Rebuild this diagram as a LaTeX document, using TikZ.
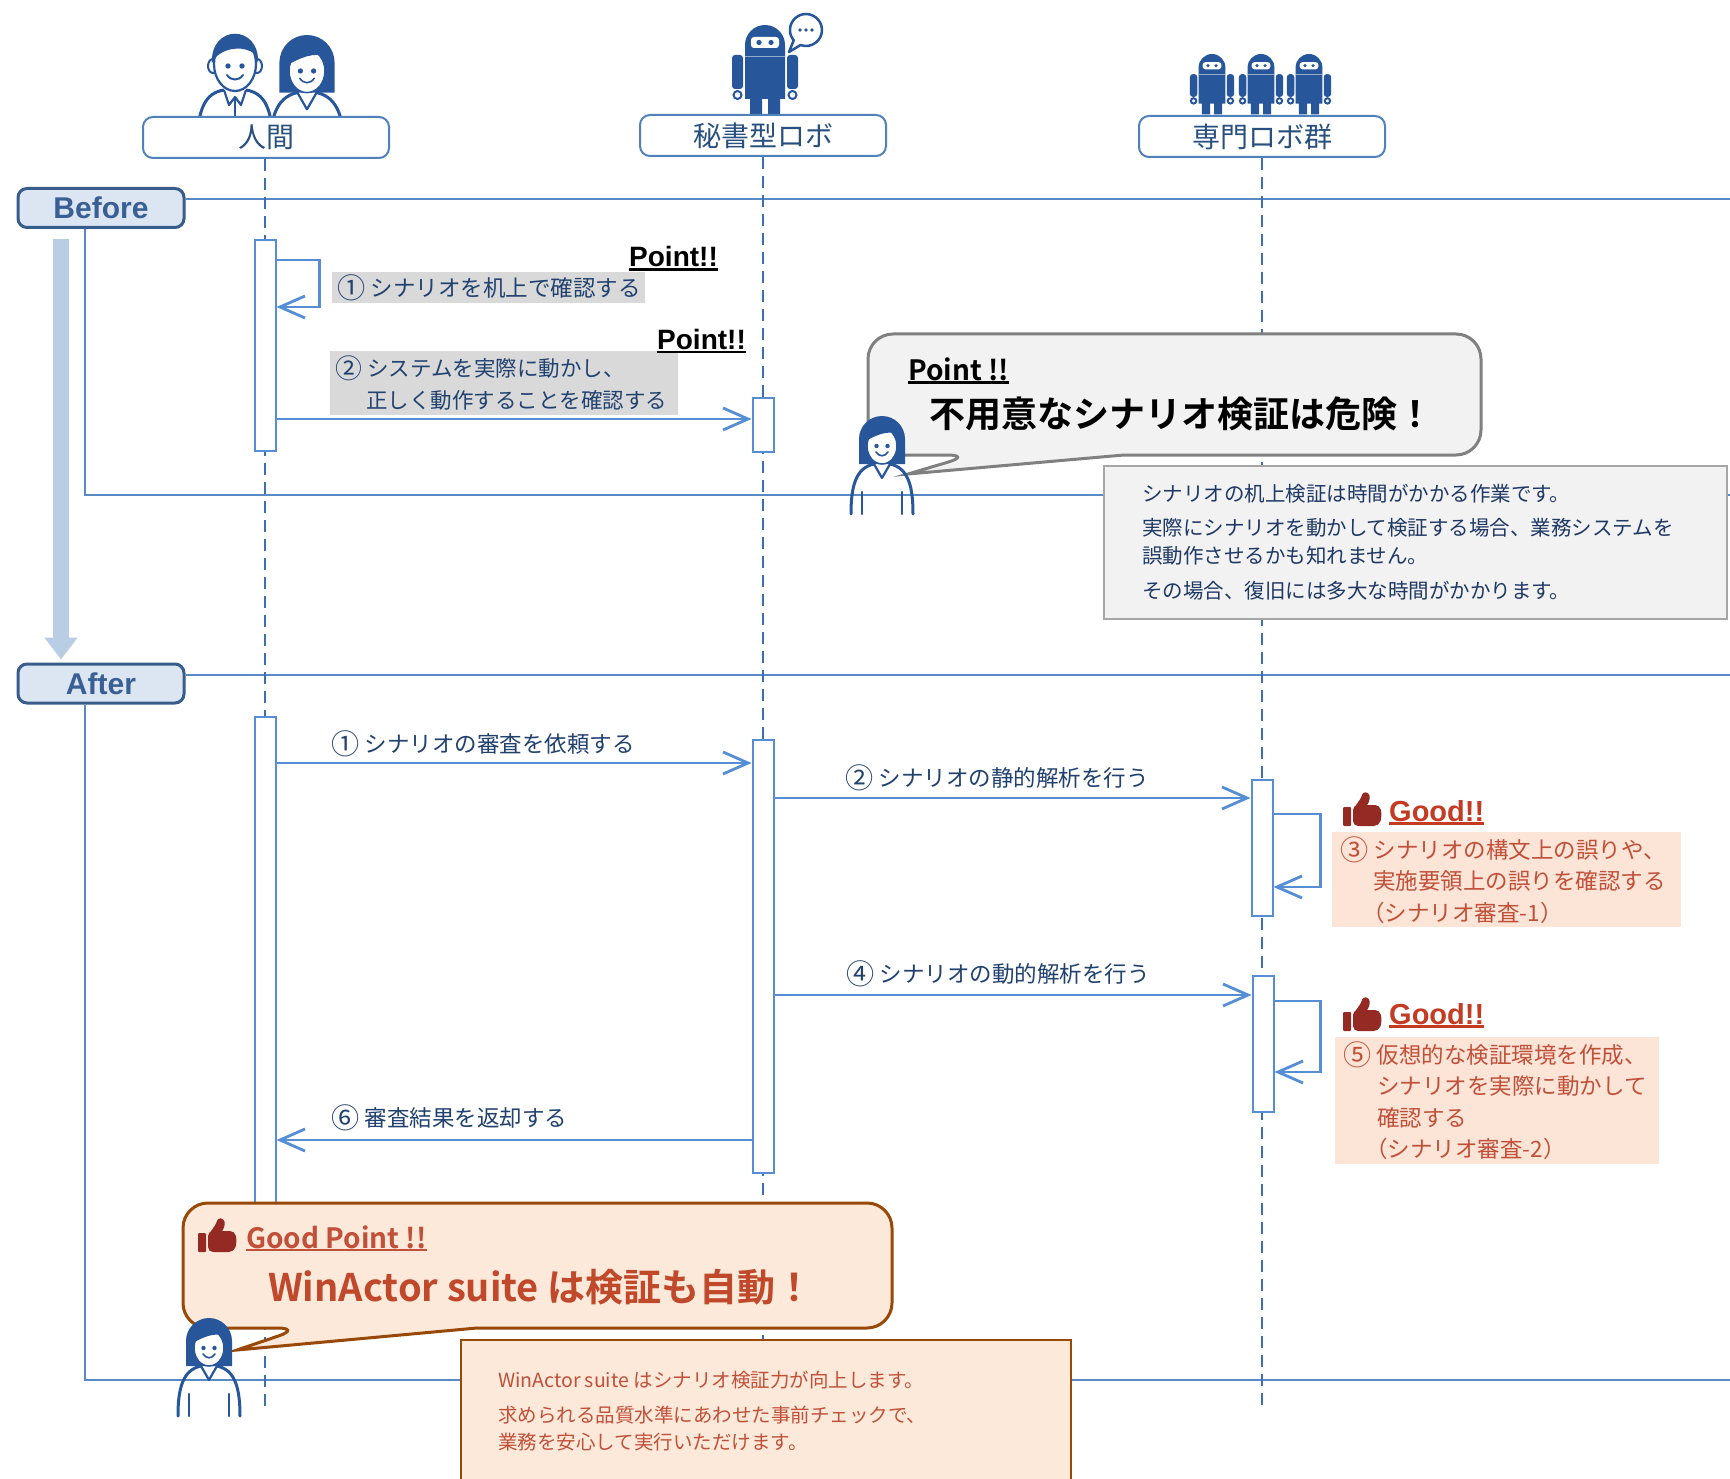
\documentclass[tikz,border=0pt]{standalone}
\usepackage{graphicx}
\usepackage{fontspec}
\setmainfont{Noto Sans CJK JP}[BoldFont={Noto Sans CJK JP Bold}]
\newfontfamily\arialfont{Liberation Sans}
\usetikzlibrary{arrows.meta}

\definecolor{cIcon}{HTML}{27579A}
\definecolor{cHdrLine}{HTML}{4F81BD}
\definecolor{cHdrTxt}{HTML}{28507F}
\definecolor{cPhaseLine}{HTML}{385D8A}
\definecolor{cPhaseFill}{HTML}{DCE6F2}
\definecolor{cPhaseTxt}{HTML}{3A5F94}
\definecolor{cFrame}{HTML}{5A8AC6}
\definecolor{cArrowBig}{HTML}{B9CDE5}
\definecolor{cLife}{HTML}{3E6FB0}
\definecolor{cMsg}{HTML}{558ED5}
\definecolor{cMsgTxt}{HTML}{21416F}
\definecolor{cLblGray}{HTML}{D9D9D9}
\definecolor{cCalFill}{HTML}{F2F2F2}
\definecolor{cCalLine}{HTML}{808080}
\definecolor{cInfoLine}{HTML}{A6A6A6}
\definecolor{cInfoTxt}{HTML}{1F3864}
\definecolor{cPeach}{HTML}{FDE9D9}
\definecolor{cGoodFill}{HTML}{FCE4D6}
\definecolor{cGoodTxt}{HTML}{C0503A}
\definecolor{cGoodRed}{HTML}{C23B22}
\definecolor{cThumb}{HTML}{952A25}
\definecolor{cGpLine}{HTML}{984807}
\definecolor{cWaTxt}{HTML}{C0482B}

% text with a thick underline: #1 depth below baseline, #2 thickness
\newsavebox\ulbox
\newcommand\ulx[3]{\sbox\ulbox{#3}\usebox\ulbox\llap{\rule[-#1]{\wd\ulbox}{#2}}}
% enlarged circled step number, kept on the line with its text
\newcommand\stepnum[1]{\raisebox{-0.09em}{\scalebox{1.25}{#1}}\nobreak\hspace{0.25em}\nobreak}

\tikzset{
  % person with long hair (origin: top of head)
  woman/.pic={
    \fill[cIcon] (-23,48) -- (-23,23) arc[start angle=180,end angle=360,radius=23] -- (23,48) -- cycle;
    \draw[cIcon,line width=3pt,line cap=round] (-8,48) .. controls (-27,52) and (-31,72) .. (-31,98);
    \draw[cIcon,line width=3pt,line cap=round] (8,48) .. controls (27,52) and (31,72) .. (31,98);
    \draw[cIcon,line width=2.2pt,line join=round] (-8,48) -- (0,62) -- (8,48);
    \draw[cIcon,line width=2.5pt,line cap=round] (-20,76) -- (-20,98) (20,76) -- (20,98);
    \filldraw[fill=white,draw=cIcon,line width=1.5pt] (0,30) ellipse [x radius=15,y radius=18];
    \begin{scope}
      \clip (0,30) ellipse [x radius=15,y radius=18];
      \fill[cIcon] (-16,10) -- (-16,25) .. controls (-6,19) and (6,14) .. (16,18) -- (16,10) -- cycle;
    \end{scope}
    \fill[cIcon] (-5.5,30) circle[radius=2.2] (5.5,30) circle[radius=2.2];
    \draw[cIcon,line width=1.6pt,line cap=round] (-6,36) .. controls (-3,41) and (3,41) .. (6,36);
  },
  % person with short hair and tie (origin: top of head)
  man/.pic={
    \draw[cIcon,line width=3pt] (-11,57) .. controls (-30,60) and (-37,76) .. (-38,110);
    \draw[cIcon,line width=3pt] (11,57) .. controls (30,60) and (37,76) .. (38,110);
    \draw[cIcon,line width=2.2pt,line join=round] (-11,57) -- (-6,72) -- (0,64) -- (6,72) -- (11,57);
    \draw[cIcon,line width=2.5pt] (0,64) -- (0,110);
    \filldraw[fill=white,draw=cIcon,line width=2pt] (-22,33) ellipse [x radius=5,y radius=7];
    \filldraw[fill=white,draw=cIcon,line width=2pt] (22,33) ellipse [x radius=5,y radius=7];
    \filldraw[fill=white,draw=cIcon,line width=2.2pt] (0,31) ellipse [x radius=21,y radius=27];
    \fill[cIcon] (-23,30) .. controls (-25,-9) and (25,-9) .. (23,30) -- (20,21) .. controls (10,13) and (-8,14) .. (-18,23) -- cycle;
    \fill[cIcon] (-7,33) circle[radius=2.7] (7,33) circle[radius=2.7];
    \draw[cIcon,line width=2pt,line cap=round] (-8,42) .. controls (-4,48) and (4,48) .. (8,42);
  },
  % robot (origin: top of head)
  robot/.pic={
    \fill[cIcon] (-20,74) -- (-20,20) arc[start angle=180,end angle=360,radius=20] -- (20,74) -- cycle;
    \fill[white,rounded corners=3pt] (-14,12) rectangle (14,23);
    \fill[cIcon] (-6,17.5) circle[radius=2.6] (6,17.5) circle[radius=2.6];
    \draw[white,line width=0.8pt,opacity=0.5] (-20,31) -- (20,31);
    \fill[cIcon,rounded corners=3pt] (-33,30) rectangle (-22,64) (22,30) rectangle (33,64);
    \draw[cIcon,line width=2pt] (-27.5,70) circle[radius=4] (27.5,70) circle[radius=4];
    \fill[cIcon] (-15,73) rectangle (-3,90) (3,73) rectangle (15,90);
  },
  % thumbs-up (origin: top left)
  thumb/.pic={
    \fill[cThumb,rounded corners=1pt] (0,15) rectangle (8,34);
    \fill[cThumb,rounded corners=5pt] (10,13) -- (37,13) -- (39,24) -- (36,34) -- (10,34) -- cycle;
    \fill[cThumb,rounded corners=2.5pt] (11,16) -- (18,6) -- (20,0) -- (26,1) -- (27,7) -- (24,14) -- cycle;
  }
}

\begin{document}
\begin{tikzpicture}[x=1pt,y=-1pt,
  txt/.style={inner sep=0pt},
  hdrbox/.style={draw=cHdrLine,line width=2pt,fill=white,rounded corners=10pt,
    minimum width=246pt,minimum height=41pt,inner sep=0pt,text=cHdrTxt,
    font=\fontsize{28}{32}\selectfont},
  phase/.style={draw=cPhaseLine,line width=3pt,fill=cPhaseFill,rounded corners=9pt,
    minimum width=166pt,minimum height=39pt,inner sep=0pt,text=cPhaseTxt,
    font=\arialfont\bfseries\fontsize{30}{34}\selectfont},
  frame/.style={draw=cFrame,line width=1.8pt},
  bigarrow/.style={draw=cArrowBig,line width=16pt,-{Triangle[length=22pt,width=32pt]}},
  life/.style={draw=cLife,line width=2.5pt,dash pattern=on 12pt off 7pt},
  actbar/.style={draw=cMsg,line width=2pt,fill=white,minimum width=21pt,inner sep=0pt},
  msg/.style={draw=cMsg,line width=2.8pt,-{Straight Barb[length=25pt,width=22pt]}},
  msglabel/.style={txt,text=cMsgTxt,font=\fontsize{22.5}{32}\selectfont,anchor=west},
  graylbl/.style={fill=cLblGray,inner xsep=5pt,inner ysep=0pt,align=left,text=cMsgTxt,
    font=\fontsize{22.5}{32}\selectfont,anchor=north west},
  pointlbl/.style={txt,anchor=base west,font=\arialfont\bfseries\fontsize{28}{32}\selectfont},
  goodbox/.style={fill=cGoodFill,inner xsep=8pt,inner ysep=0pt,align=left,text=cGoodTxt,
    font=\fontsize{22.5}{31.5}\selectfont,anchor=north west},
  goodlbl/.style={txt,anchor=base west,text=cGoodRed,font=\arialfont\bfseries\fontsize{29}{32}\selectfont},
  graycallout/.style={fill=cCalFill,draw=cCalLine,line width=3pt},
  peachcallout/.style={fill=cPeach,draw=cGpLine,line width=3pt},
  infobox/.style={fill=cCalFill,draw=cInfoLine,line width=1.5pt,inner xsep=38pt,inner ysep=0pt,
    align=left,text=cInfoTxt,font=\fontsize{20.5}{28}\selectfont},
  peachbox/.style={fill=cPeach,draw=cGpLine,line width=1.5pt,inner sep=0pt}
]
\useasboundingbox (0,0) rectangle (1730,1479);
\fill[white] (0,0) rectangle (1730,1479);

% ---------- phase frames ----------
\node[phase] (before) at (101,208) {Before};
\node[phase] (after) at (101,683.5) {After};
\coordinate (bTopEnd) at (1730,199);
\coordinate (bCorner) at (85,495);
\coordinate (bBotEnd) at (1730,495);
\coordinate (aTopEnd) at (1730,675);
\coordinate (aCorner) at (85,1380);
\coordinate (aBotEnd) at (1730,1380);
\draw[frame] (before.east |- bTopEnd) -- (bTopEnd);
\draw[frame] (before.south -| bCorner) -- (bCorner) -- (bBotEnd);
\draw[frame] (after.east |- aTopEnd) -- (aTopEnd);
\draw[frame] (after.south -| aCorner) -- (aCorner) -- (aBotEnd);
\draw[bigarrow] ([xshift=-40pt,yshift=-10pt]before.south) -- ([xshift=-40pt,yshift=3pt]after.north);

% ---------- participants ----------
\pic at (235,33) {man};
\pic[scale=1.2] at (307,35) {woman};
\pic at (765,25) {robot};
\filldraw[fill=white,draw=cIcon,line width=2.5pt,line join=round]
  (793.7,40.3) arc[start angle=140,end angle=470,radius=16] -- (789,52) -- cycle;
\fill[cIcon] (800,30) circle[radius=1.8] (806,30) circle[radius=1.8] (812,30) circle[radius=1.8];
\pic[scale=0.67] at (1212,54) {robot};
\pic[scale=0.67] at (1261,54) {robot};
\pic[scale=0.67] at (1309,54) {robot};

\node[hdrbox] (hum) at (266,137.5) {人間};
\node[hdrbox] (sec) at (763,135.5) {秘書型ロボ};
\node[hdrbox] (spec) at (1262,136.5) {専門ロボ群};

% ---------- lifelines ----------
\coordinate (humEnd) at (265,1410);
\coordinate (secEnd) at (763,1410);
\coordinate (specEnd) at (1262,1407);
\draw[life] (hum.south -| humEnd) -- (humEnd);
\draw[life] (sec.south) -- (secEnd);
\draw[life] (spec.south) -- (specEnd);

% ---------- activation bars ----------
\node[actbar,minimum height=211pt] (hb1) at (265,345.5) {};
\node[actbar,minimum height=54pt] (rb1) at (763,425) {};
\node[actbar,minimum height=523pt] (hb2) at (265,978.5) {};
\node[actbar,minimum height=433pt] (rb2) at (763,956.5) {};
\node[actbar,minimum height=136pt] (sb1) at (1262,848) {};
\node[actbar,minimum height=136pt] (sb2) at (1263,1044) {};

% ---------- messages (before) ----------
\draw[msg] (hb1.east |- 0,260) -- ++(43,0) -- ++(0,47) -- (hb1.east |- 0,307);
\draw[msg] (hb1.east |- 0,419) -- (rb1.west |- 0,419);

\node[graylbl,minimum width=313pt,minimum height=31pt,text width=303pt] (lab1) at (332,272)
  {\stepnum{①}シナリオを机上で確認する};
\node[graylbl,minimum width=348pt,minimum height=64pt,text width=338pt,
      font=\fontsize{21.5}{32}\selectfont] (lab2) at (330,351)
  {\stepnum{②}システムを実際に動かし、\\\hspace*{31pt}正しく動作することを確認する};
\node[pointlbl] (pt1) at (629,267) {\ulx{4pt}{2.5pt}{Point!!}};
\node[pointlbl] (pt2) at (657,349) {\ulx{4pt}{2.5pt}{Point!!}};

% ---------- messages (after) ----------
\draw[msg] (hb2.east |- 0,763) -- (rb2.west |- 0,763);
\draw[msg] (rb2.east |- 0,798) -- (sb1.west |- 0,798);
\draw[msg] (sb1.east |- 0,814) -- ++(47,0) -- ++(0,73) -- (sb1.east |- 0,887);
\draw[msg] (rb2.east |- 0,995) -- (sb2.west |- 0,995);
\draw[msg] (sb2.east |- 0,1001) -- ++(46,0) -- ++(0,71) -- (sb2.east |- 0,1072);
\draw[msg] (rb2.west |- 0,1140) -- (hb2.east |- 0,1140);

\node[msglabel] (m1) at (331,744) {\stepnum{①}シナリオの審査を依頼する};
\node[msglabel] (m2) at (845,778) {\stepnum{②}シナリオの静的解析を行う};
\node[msglabel] (m4) at (846,974) {\stepnum{④}シナリオの動的解析を行う};
\node[msglabel] (m6) at (331,1118) {\stepnum{⑥}審査結果を返却する};

\node[goodbox,minimum width=349pt,minimum height=95pt,text width=333pt] (g3) at (1332,832)
  {\stepnum{③}シナリオの構文上の誤りや、\\\hspace*{33pt}実施要領上の誤りを確認する\\\hspace*{22pt}（シナリオ審査-1）};
\node[goodbox,minimum width=324pt,minimum height=127pt,text width=308pt] (g5) at (1335,1037)
  {\stepnum{⑤}仮想的な検証環境を作成、\\\hspace*{34pt}シナリオを実際に動かして\\\hspace*{34pt}確認する\\\hspace*{22pt}（シナリオ審査-2）};

\pic at (1343,792) {thumb};
\node[goodlbl] (good1) at (1389,821) {\ulx{3.5pt}{2.5pt}{Good!!}};
\pic at (1343,997) {thumb};
\node[goodlbl] (good2) at (1389,1024) {\ulx{3.5pt}{2.5pt}{Good!!}};

% ---------- warning callout (before) ----------
\draw[graycallout] (1124,455) [rounded corners=25pt] -- (1481,455) -- (1481,334) -- (868,334) -- (868,455) -- (972,455) [sharp corners] -- (908,474) -- cycle;
\node[txt,anchor=base west,font=\bfseries\fontsize{28}{32}\selectfont] (cpt) at (908,381) {\ulx{3pt}{2.5pt}{Point !!}};
\node[txt,anchor=west,font=\bfseries\fontsize{36}{40}\selectfont] (cmain) at (929,414) {不用意なシナリオ検証は危険！};

\node[infobox,minimum width=623pt,minimum height=153pt,text width=547pt] (info) at (1415.5,542.5)
  {シナリオの机上検証は時間がかかる作業です。\\[6pt]実際にシナリオを動かして検証する場合、業務システムを\\誤動作させるかも知れません。\\[7pt]その場合、復旧には多大な時間がかかります。};

\pic at (882,416) {woman};

% ---------- good point callout (after) ----------
\draw[peachcallout] (477,1328) [rounded corners=25pt] -- (892,1328) -- (892,1203) -- (183,1203) -- (183,1328) -- (302,1328) [sharp corners] -- (237,1350) -- cycle;
\pic at (198,1218) {thumb};
\node[txt,anchor=base west,text=cGoodTxt,font=\bfseries\fontsize{28}{32}\selectfont] (gp) at (246,1248) {\ulx{3pt}{2.5pt}{Good Point !!}};
\node[txt,anchor=west,text=cWaTxt,font=\bfseries\fontsize{38}{42}\selectfont] (wa) at (268,1287) {WinActor suite は検証も自動！};

\node[peachbox,anchor=north west,minimum width=610pt,minimum height=170pt] (pinfo) at (460,1339) {};
\node[txt,anchor=north west,align=left,text=cGoodTxt,font=\fontsize{19.5}{27}\selectfont] (ptext) at (498,1371)
  {WinActor suite はシナリオ検証力が向上します。\\[8pt]求められる品質水準にあわせた事前チェックで、\\業務を安心して実行いただけます。};

\pic at (209,1318) {woman};
\end{tikzpicture}
\end{document}
